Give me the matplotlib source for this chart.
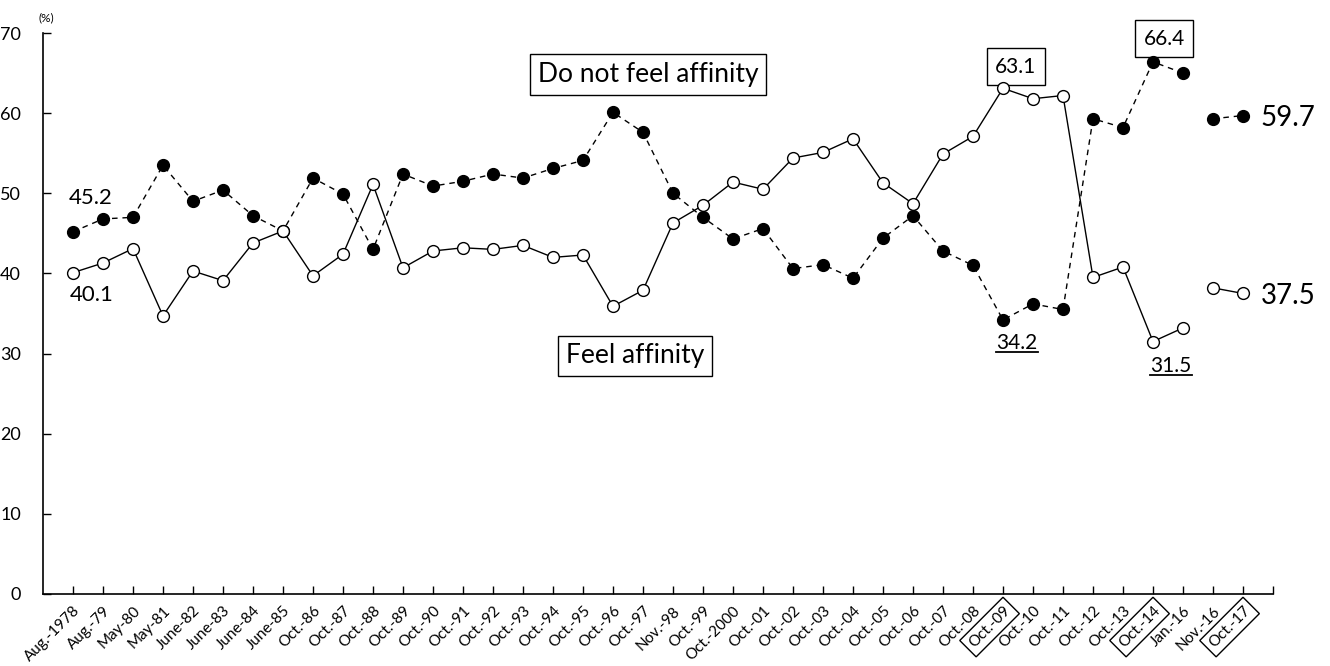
import numpy as np
import matplotlib
matplotlib.use('Agg')
import matplotlib.pyplot as plt
from matplotlib.lines import Line2D
from matplotlib.transforms import IdentityTransform

plt.rcParams['font.family'] = ['Lato', 'DejaVu Sans']

labels = ['Aug.-1978', 'Aug.-79', 'May-80', 'May-81', 'June-82', 'June-83', 'June-84', 'June-85',
          'Oct.-86', 'Oct.-87', 'Oct.-88', 'Oct.-89', 'Oct.-90', 'Oct.-91', 'Oct.-92', 'Oct.-93',
          'Oct.-94', 'Oct.-95', 'Oct.-96', 'Oct.-97', 'Nov.-98', 'Oct.-99', 'Oct.-2000', 'Oct.-01',
          'Oct.-02', 'Oct.-03', 'Oct.-04', 'Oct.-05', 'Oct.-06', 'Oct.-07', 'Oct.-08', 'Oct.-09',
          'Oct.-10', 'Oct.-11', 'Oct.-12', 'Oct.-13', 'Oct.-14', 'Jan.-16', 'Nov.-16', 'Oct.-17']
boxed_labels = ['Oct.-09', 'Oct.-14', 'Oct.-17']

feel = [40.1, 41.3, 43.1, 34.7, 40.3, 39.1, 43.8, 45.3, 39.7, 42.4, 51.1, 40.7, 42.8, 43.2,
        43.0, 43.5, 42.0, 42.3, 35.9, 37.9, 46.3, 48.5, 51.4, 50.5, 54.4, 55.1, 56.8, 51.3,
        48.7, 54.9, 57.1, 63.1, 61.8, 62.2, 39.5, 40.8, 31.5, 33.2, 38.2, 37.5]
not_feel = [45.2, 46.8, 47.0, 53.5, 49.0, 50.4, 47.2, 45.3, 51.9, 49.9, 43.0, 52.4, 50.9, 51.5,
            52.4, 51.9, 53.1, 54.1, 60.1, 57.6, 50.0, 47.0, 44.3, 45.6, 40.6, 41.1, 39.4, 44.4,
            47.2, 42.8, 41.0, 34.2, 36.2, 35.5, 59.3, 58.2, 66.4, 65.0, 59.3, 59.7]

x = np.arange(len(labels))
feel = np.array(feel)
not_feel = np.array(not_feel)
brk = 38  # lines are not joined between Jan.-16 and Nov.-16

fig = plt.figure(figsize=(13.3, 6.66), dpi=100)
ax = fig.add_axes([43/1330, 72/666, 1230/1330, 561/666])

for seg in (slice(0, brk), slice(brk, None)):
    ax.plot(x[seg], not_feel[seg], color='k', lw=1.0, ls=(0, (4, 3.5)),
            marker='o', ms=8.5, mfc='k', mec='k', zorder=3)
    ax.plot(x[seg], feel[seg], color='k', lw=1.0, ls='-',
            marker='o', ms=8.5, mfc='white', mec='k', mew=1.0, zorder=3)

ax.set_xlim(-1, 40)
ax.set_ylim(0, 70)
ax.set_yticks(range(0, 71, 10))
ax.set_xticks(list(x) + [40])
ax.set_xticklabels(labels + [''], rotation=45, ha='right', rotation_mode='anchor', fontsize=11)
for t in ax.get_xticklabels():
    if t.get_text() in boxed_labels:
        t.set_bbox(dict(facecolor='white', edgecolor='black', lw=1.0, boxstyle='square,pad=0.3'))
ax.tick_params(axis='x', direction='in', length=6, width=1, pad=7)
ax.tick_params(axis='y', direction='in', length=6, width=1, labelsize=13, pad=16)
for s in ('top', 'right'):
    ax.spines[s].set_visible(False)
for s in ('left', 'bottom'):
    ax.spines[s].set_linewidth(1.2)

ax.text(-0.9, 71.2, '(%)', fontsize=8.5, ha='center', va='bottom')

bkw = dict(facecolor='white', edgecolor='black', lw=1.0, boxstyle='square,pad=0.3')
ax.text(0.6, 49.4, '45.2', fontsize=16, ha='center', va='center')
ax.text(0.63, 37.3, '40.1', fontsize=16, ha='center', va='center')
ax.text(19.17, 64.8, 'Do not feel affinity', fontsize=19, ha='center', va='center', bbox=bkw, zorder=2)
ax.text(18.73, 29.7, 'Feel affinity', fontsize=19, ha='center', va='center', bbox=bkw, zorder=2)
ax.text(31.43, 65.8, '63.1', fontsize=15, ha='center', va='center',
        bbox=dict(bkw, boxstyle='square,pad=0.4'), zorder=2)
ax.text(36.37, 69.3, '66.4', fontsize=15, ha='center', va='center',
        bbox=dict(bkw, boxstyle='square,pad=0.4'), zorder=2, clip_on=False)
under = [ax.text(31.47, 31.3, '34.2', fontsize=15, ha='center', va='center'),
         ax.text(36.6, 28.45, '31.5', fontsize=15, ha='center', va='center')]
ax.text(40.5, 59.4, '59.7', fontsize=20, ha='center', va='center', clip_on=False)
ax.text(40.5, 37.2, '37.5', fontsize=20, ha='center', va='center', clip_on=False)

# underline the minimum values
fig.canvas.draw()
r = fig.canvas.get_renderer()
for t in under:
    bb = t.get_window_extent(r)
    fig.add_artist(Line2D([bb.x0, bb.x1], [bb.y0 + 1, bb.y0 + 1], color='k', lw=1.3,
                          transform=IdentityTransform()))

fig.savefig('out.png', dpi=100)
